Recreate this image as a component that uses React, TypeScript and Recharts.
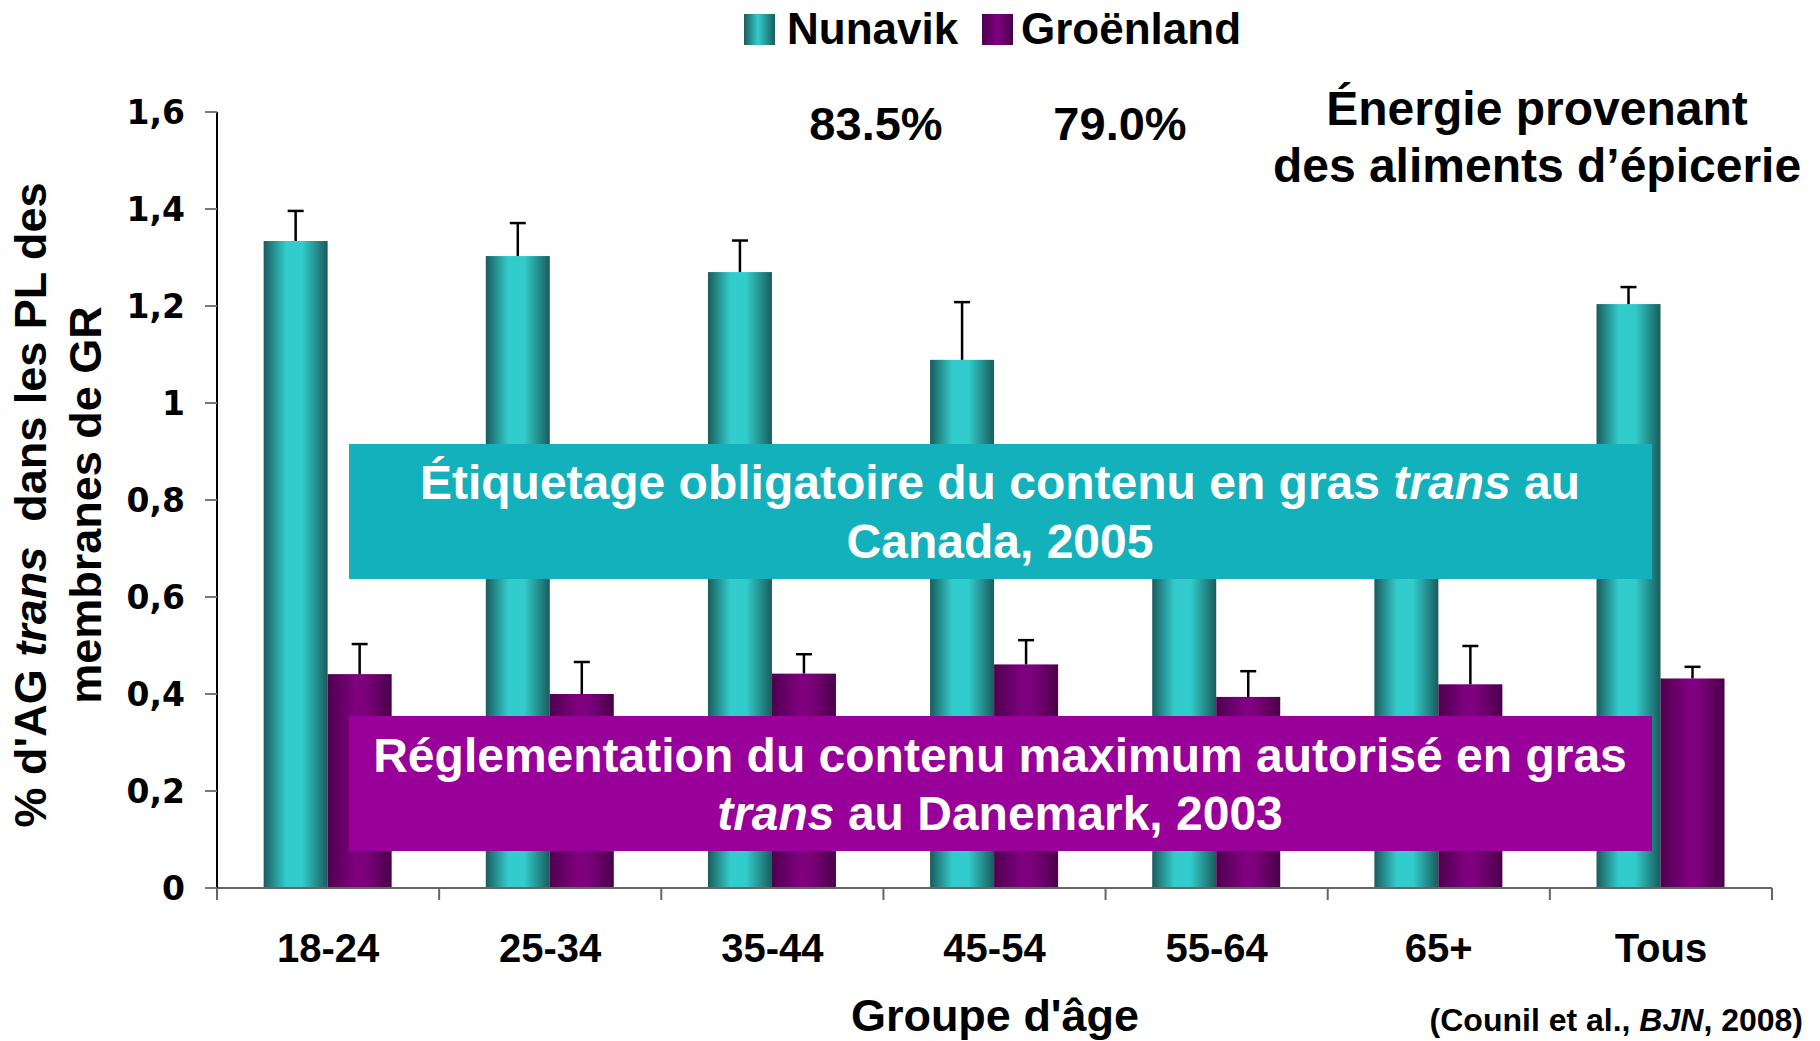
import React from 'react'
import { BarChart, Bar, XAxis, YAxis } from 'recharts'

const categories = ['18-24', '25-34', '35-44', '45-54', '55-64', '65+', 'Tous']
const nunavik = [1.334, 1.303, 1.27, 1.089, 0.8, 0.82, 1.204]
const nunavikErr = [0.062, 0.068, 0.065, 0.119, 0.06, 0.07, 0.035]
const groenland = [0.441, 0.4, 0.442, 0.461, 0.394, 0.42, 0.432]
const groenlandErr = [0.062, 0.066, 0.04, 0.05, 0.053, 0.079, 0.024]
const yTicks = [0, 0.2, 0.4, 0.6, 0.8, 1, 1.2, 1.4, 1.6]

const data = categories.map((c, i) => ({
  cat: c,
  nunavik: nunavik[i],
  nunavikErr: nunavikErr[i],
  groenland: groenland[i],
  groenlandErr: groenlandErr[i],
}))

const FONT = '"Liberation Sans", Arial, Helvetica, sans-serif'
const TICK_FONT = '"DejaVu Sans", Verdana, sans-serif'
const W = 1820
const H = 1041

const fmtY = (v: number) => (Number.isInteger(v) ? String(v) : v.toFixed(1).replace('.', ','))

// bar with a one-sided (upward) error bar, scaled from the bar's own geometry
const barWithError = (valueKey: string, errKey: string, gradId: string) => (props: any) => {
  const { x, y, width, height, payload } = props
  const v = payload[valueKey]
  const e = payload[errKey]
  const perUnit = v ? height / v : 0
  const cx = x + width / 2
  const top = y - e * perUnit
  return (
    <g>
      <rect x={x} y={y} width={width} height={height} fill={`url(#${gradId})`} />
      <line x1={cx} x2={cx} y1={y} y2={top} stroke="#000" strokeWidth={2.5} />
      <line x1={cx - 8} x2={cx + 8} y1={top} y2={top} stroke="#000" strokeWidth={2.5} />
    </g>
  )
}

// category label at the band centre, tick marks at the band edges
const CatTick = (props: any) => {
  const { x, y, payload, index, width, visibleTicksCount } = props
  const n = visibleTicksCount || categories.length
  const band = (width || 1555) / n
  return (
    <g>
      <line x1={x - band / 2} x2={x - band / 2} y1={y} y2={y + 12} stroke="#666" strokeWidth={2} />
      {index === n - 1 && (
        <line x1={x + band / 2} x2={x + band / 2} y1={y} y2={y + 12} stroke="#666" strokeWidth={2} />
      )}
      <text x={x} y={y + 74} textAnchor="middle" fontFamily={FONT} fontWeight={700} fontSize={40} fill="#000">
        {payload.value}
      </text>
    </g>
  )
}

const txt = { fontFamily: FONT, fontWeight: 700, fill: '#000' } as const

export default function App() {
  return (
    <div style={{ position: 'relative', width: W, height: H, background: '#fff', overflow: 'hidden' }}>
      <style>{'body{margin:0;overflow:hidden}'}</style>
      <BarChart
        width={W}
        height={H}
        data={data}
        margin={{ top: 112, right: 48, bottom: 0, left: 0 }}
        barCategoryGap="21%"
        barGap={0}
      >
        <defs>
          <linearGradient id="gradNun" x1="0" y1="0" x2="1" y2="0">
            <stop offset="0%" stopColor="#1a5c5c" />
            <stop offset="35%" stopColor="#33cccc" />
            <stop offset="60%" stopColor="#33cccc" />
            <stop offset="100%" stopColor="#1a5c5c" />
          </linearGradient>
          <linearGradient id="gradGro" x1="0" y1="0" x2="1" y2="0">
            <stop offset="0%" stopColor="#4f004f" />
            <stop offset="45%" stopColor="#800080" />
            <stop offset="60%" stopColor="#7c007c" />
            <stop offset="100%" stopColor="#4a004a" />
          </linearGradient>
        </defs>
        <XAxis
          dataKey="cat"
          type="category"
          interval={0}
          height={153}
          tickSize={0}
          tickMargin={0}
          tickLine={false}
          axisLine={{ stroke: '#666', strokeWidth: 2 }}
          tick={<CatTick />}
        />
        <YAxis
          width={217}
          domain={[0, 1.6]}
          ticks={yTicks}
          interval={0}
          tickFormatter={fmtY}
          tickSize={12}
          tickMargin={20}
          tickLine={{ stroke: '#777', strokeWidth: 2 }}
          axisLine={{ stroke: '#000', strokeWidth: 2 }}
          tick={{ fontFamily: TICK_FONT, fontWeight: 700, fill: '#000', fontSize: 33 }}
        />
        <Bar dataKey="nunavik" isAnimationActive={false} shape={barWithError('nunavik', 'nunavikErr', 'gradNun')} />
        <Bar dataKey="groenland" isAnimationActive={false} shape={barWithError('groenland', 'groenlandErr', 'gradGro')} />
      </BarChart>

      <svg width={W} height={H} style={{ position: 'absolute', left: 0, top: 0, pointerEvents: 'none' }}>
        <defs>
          <linearGradient id="legNun" x1="0" y1="0" x2="1" y2="0">
            <stop offset="0%" stopColor="#1a5c5c" />
            <stop offset="45%" stopColor="#33cccc" />
            <stop offset="100%" stopColor="#1a5c5c" />
          </linearGradient>
          <linearGradient id="legGro" x1="0" y1="0" x2="1" y2="0">
            <stop offset="0%" stopColor="#4f004f" />
            <stop offset="50%" stopColor="#800080" />
            <stop offset="100%" stopColor="#4a004a" />
          </linearGradient>
        </defs>

        {/* legend */}
        <rect x={744} y={14} width={31} height={31} fill="url(#legNun)" />
        <text x={787} y={44} {...txt} fontSize={44}>Nunavik</text>
        <rect x={982} y={14} width={31} height={31} fill="url(#legGro)" />
        <text x={1021} y={44} {...txt} fontSize={44}>Groënland</text>

        {/* top annotations */}
        <text x={876} y={140} {...txt} fontSize={47} textAnchor="middle">83.5%</text>
        <text x={1120} y={140} {...txt} fontSize={47} textAnchor="middle">79.0%</text>
        <text x={1537} y={125} {...txt} fontSize={48} textAnchor="middle">Énergie provenant</text>
        <text x={1537} y={182} {...txt} fontSize={48} textAnchor="middle">des aliments d’épicerie</text>

        {/* y-axis title */}
        <text transform="translate(46,505) rotate(-90)" {...txt} fontSize={45} textAnchor="middle" style={{ whiteSpace: 'pre' }}>
          % d'AG <tspan fontStyle="italic">trans</tspan>{'  dans les PL des'}
        </text>
        <text transform="translate(101,505) rotate(-90)" {...txt} fontSize={45} textAnchor="middle">
          membranes de GR
        </text>

        {/* x-axis title and source */}
        <text x={995} y={1031} {...txt} fontSize={45} textAnchor="middle">Groupe d'âge</text>
        <text x={1803} y={1031} {...txt} fontSize={32} textAnchor="end">
          (Counil et al., <tspan fontStyle="italic">BJN</tspan>, 2008)
        </text>

        {/* policy boxes */}
        <rect x={349} y={444} width={1303} height={135} fill="#13b1bc" />
        <text x={1000} y={499} {...txt} fill="#fff" fontSize={48} textAnchor="middle">
          Étiquetage obligatoire du contenu en gras <tspan fontStyle="italic">trans</tspan> au
        </text>
        <text x={1000} y={558} {...txt} fill="#fff" fontSize={48} textAnchor="middle">Canada, 2005</text>

        <rect x={349} y={716} width={1303} height={135} fill="#990099" />
        <text x={1000} y={772} {...txt} fill="#fff" fontSize={48} textAnchor="middle">
          Réglementation du contenu maximum autorisé en gras
        </text>
        <text x={1000} y={830} {...txt} fill="#fff" fontSize={48} textAnchor="middle">
          <tspan fontStyle="italic">trans</tspan> au Danemark, 2003
        </text>
      </svg>
    </div>
  )
}
